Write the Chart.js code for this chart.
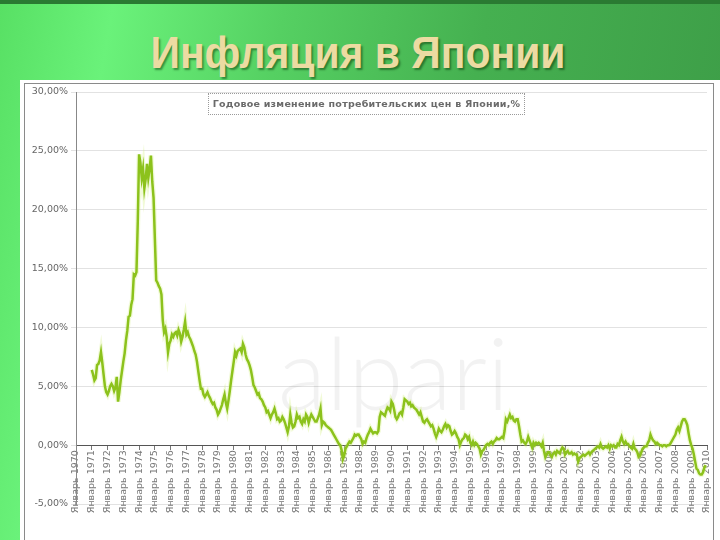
<!DOCTYPE html>
<html>
<head>
<meta charset="utf-8">
<script src="https://cdn.jsdelivr.net/npm/chart.js@4.4.1/dist/chart.umd.min.js"></script>
<style>
  html, body { margin: 0; padding: 0; }
  body {
    width: 720px; height: 540px; overflow: hidden; position: relative;
    background: linear-gradient(100deg, #58e064 0%, #6af27a 14%, #55d062 35%, #45b050 60%, #3c9a46 100%);
  }
  .topbar { position: absolute; left: 0; top: 0; width: 720px; height: 4px; background: #2a7a32; }
  h1 {
    position: absolute; left: 0; top: 28px; width: 716px; margin: 0;
    text-align: center; font: bold 44px "Liberation Sans", Arial, sans-serif;
    color: #ecdba2; text-shadow: 2px 2px 2px rgba(0, 40, 0, 0.45);
    transform: scaleX(0.93); transform-origin: 358px 0;
  }
  .panel { position: absolute; left: 20px; top: 80px; width: 700px; height: 460px; background: #fff; }
  .frame { position: absolute; left: 24px; top: 83px; width: 688px; height: 470px; border: 1px solid #8a8a8a; }
  canvas { position: absolute; left: 0; top: 0; }
  .legend {
    position: absolute; left: 208px; top: 93px; width: 317px; height: 22px;
    border: 1px dotted #9a9a9a; box-sizing: border-box;
    font: bold 9.5px "DejaVu Sans", sans-serif; color: #6a6a6a; letter-spacing: 0.25px;
    line-height: 20px; text-align: center; white-space: nowrap;
  }
</style>
</head>
<body>
<div class="topbar"></div>
<h1>Инфляция в Японии</h1>
<div class="panel"></div>
<div class="frame"></div>
<canvas id="chart" width="720" height="540"></canvas>
<div class="legend">Годовое изменение потребительских цен в Японии,%</div>
<script>
// годовое изменение ИПЦ, %, помесячно (янв..дек)
const y1971 = [6.4, 6.0, 5.5, 5.7, 6.8, 6.9, 7.2, 7.9, 7.0, 6.0, 5.0, 4.5];
const y1972 = [4.3, 4.6, 5.0, 5.2, 5.0, 4.6, 4.9, 5.8, 3.7, 4.5, 5.5, 6.3];
const y1973 = [7.1, 7.8, 8.9, 9.7, 10.9, 11.0, 11.9, 12.4, 14.5, 14.4, 14.7, 19.0];
const y1974 = [24.7, 24.0, 22.7, 23.5, 21.8, 22.6, 23.9, 22.7, 23.5, 24.6, 22.4, 21.0];
const y1975 = [17.5, 14.0, 13.8, 13.5, 13.3, 12.8, 10.6, 9.6, 9.9, 9.2, 7.9, 8.6];
const y1976 = [8.9, 9.4, 9.2, 9.5, 9.6, 9.3, 9.8, 9.5, 8.8, 9.2, 9.8, 10.5];
const y1977 = [9.4, 9.6, 9.2, 9.0, 8.7, 8.4, 8.0, 7.7, 7.1, 6.3, 5.5, 4.8];
const y1978 = [4.8, 4.3, 4.1, 4.3, 4.5, 4.2, 4.0, 3.7, 3.5, 3.6, 3.2, 3.0];
const y1979 = [2.6, 2.8, 3.1, 3.4, 3.9, 4.3, 3.6, 3.1, 3.8, 4.6, 5.5, 6.3];
const y1980 = [7.1, 7.9, 7.6, 8.0, 8.1, 8.2, 7.9, 8.6, 8.3, 7.7, 7.3, 7.1];
const y1981 = [6.8, 6.4, 5.8, 5.1, 4.9, 4.6, 4.3, 4.4, 4.0, 3.9, 3.7, 3.4];
const y1982 = [3.2, 2.8, 2.9, 2.6, 2.3, 2.6, 2.8, 3.1, 2.7, 2.2, 2.3, 2.0];
const y1983 = [2.1, 2.4, 2.2, 1.9, 1.5, 1.1, 1.6, 2.6, 1.9, 1.5, 1.6, 2.0];
const y1984 = [2.6, 2.3, 2.4, 2.0, 1.8, 2.2, 2.0, 2.6, 2.4, 1.9, 2.3, 2.6];
const y1985 = [2.4, 2.2, 2.0, 2.0, 2.3, 2.6, 3.1, 1.7, 2.0, 1.9, 1.7, 1.6];
const y1986 = [1.5, 1.4, 1.3, 1.1, 0.9, 0.7, 0.5, 0.3, 0.1, 0.0, -0.4, -1.2];
const y1987 = [-0.9, -0.3, -0.1, 0.1, 0.3, 0.2, 0.4, 0.6, 0.9, 0.8, 0.9, 0.9];
const y1988 = [0.7, 0.5, 0.1, 0.3, 0.2, 0.6, 0.9, 1.1, 1.4, 1.2, 1.0, 1.1];
const y1989 = [1.1, 1.0, 1.2, 2.4, 2.8, 2.7, 2.6, 2.5, 2.9, 3.2, 3.1, 2.9];
const y1990 = [3.7, 3.5, 3.0, 2.4, 2.2, 2.4, 2.7, 2.8, 2.6, 3.2, 3.9, 3.8];
const y1991 = [3.7, 3.5, 3.6, 3.3, 3.4, 3.2, 3.1, 3.0, 2.8, 2.6, 2.8, 2.4];
const y1992 = [2.0, 1.9, 2.1, 2.2, 2.0, 1.8, 1.6, 1.7, 1.4, 1.0, 0.7, 1.0];
const y1993 = [1.4, 1.2, 1.1, 1.3, 1.6, 1.8, 1.5, 1.7, 1.6, 1.2, 0.9, 1.0];
const y1994 = [1.2, 1.0, 0.7, 0.5, 0.0, 0.3, 0.5, 0.6, 0.9, 0.8, 0.5, 0.7];
const y1995 = [0.2, 0.0, 0.3, 0.0, 0.2, 0.1, -0.1, -0.3, -0.8, -0.5, -0.4, -0.2];
const y1996 = [0.0, 0.1, 0.0, 0.2, 0.3, 0.1, 0.3, 0.4, 0.6, 0.5, 0.5, 0.6];
const y1997 = [0.7, 0.6, 1.2, 2.2, 2.0, 2.3, 2.6, 2.3, 2.4, 2.1, 2.0, 2.2];
const y1998 = [2.2, 1.6, 0.9, 0.3, 0.4, 0.2, 0.1, 0.3, 0.7, 0.4, 0.1, -0.2];
const y1999 = [0.2, 0.0, 0.2, 0.1, 0.2, 0.1, -0.1, 0.2, -0.5, -1.0, -0.8, -0.6];
const y2000 = [-0.6, -0.9, -1.0, -0.7, -0.6, -0.8, -0.5, -0.6, -0.7, -0.4, -0.2, -0.3];
const y2001 = [-0.8, -0.6, -0.5, -0.7, -0.7, -0.6, -0.8, -0.7, -0.8, -0.8, -1.4, -1.1];
const y2002 = [-1.0, -0.9, -0.8, -0.9, -0.8, -0.7, -0.6, -0.8, -0.6, -0.5, -0.4, -0.3];
const y2003 = [-0.2, -0.1, -0.2, 0.1, -0.2, -0.3, -0.2, -0.1, -0.2, 0.0, -0.3, 0.0];
const y2004 = [-0.1, 0.0, -0.2, -0.2, 0.1, 0.0, 0.4, 0.7, 0.3, 0.1, 0.3, 0.1];
const y2005 = [0.1, -0.1, -0.2, -0.3, 0.1, -0.3, -0.4, -0.6, -1.0, -0.9, -0.6, -0.3];
const y2006 = [-0.2, -0.1, -0.1, 0.2, 0.4, 0.9, 0.6, 0.4, 0.3, 0.1, 0.2, 0.1];
const y2007 = [0.0, 0.0, -0.1, 0.0, 0.0, -0.1, 0.0, 0.0, 0.1, 0.3, 0.5, 0.7];
const y2008 = [0.9, 1.3, 1.5, 1.2, 1.6, 2.0, 2.2, 2.2, 2.0, 1.7, 1.0, 0.4];
const y2009 = [0.0, -0.3, -0.8, -1.4, -2.0, -2.1, -2.4, -2.5, -2.5, -2.3, -1.9, -1.7];

const firstYear = 1971;
const monthly = [].concat(
  y1971, y1972, y1973, y1974, y1975, y1976, y1977, y1978, y1979, y1980,
  y1981, y1982, y1983, y1984, y1985, y1986, y1987, y1988, y1989, y1990,
  y1991, y1992, y1993, y1994, y1995, y1996, y1997, y1998, y1999, y2000,
  y2001, y2002, y2003, y2004, y2005, y2006, y2007, y2008, y2009
);
const points = monthly.map((v, i) => ({ x: firstYear + i / 12, y: v }));

const yTicks = [30, 25, 20, 15, 10, 5, 0, -5];

// водяной знак на фоне графика
const watermark = {
  id: 'watermark',
  beforeDatasetsDraw(chart) {
    const { ctx, chartArea } = chart;
    ctx.save();
    ctx.font = '300 100px Lato, "DejaVu Sans", sans-serif';
    ctx.fillStyle = 'rgba(0,0,0,0.05)';
    ctx.textAlign = 'center';
    ctx.textBaseline = 'alphabetic';
    ctx.fillText('alpari', (chartArea.left + chartArea.right) / 2 + 2, 410);
    ctx.restore();
  }
};

const fmt = v => v.toFixed(2).replace('.', ',') + '%';

new Chart(document.getElementById('chart'), {
  type: 'line',
  data: {
    datasets: [{
      data: points,
      borderColor: '#8cc21c',
      borderWidth: 2.5,
      pointRadius: 0,
      tension: 0,
      fill: false
    }, {
      data: points,
      borderColor: 'rgba(215,240,140,0.35)',
      borderWidth: 5,
      pointRadius: 0,
      tension: 0,
      fill: false
    }]
  },
  plugins: [watermark],
  options: {
    responsive: false,
    animation: false,
    layout: { padding: { left: 24, top: 92, right: 13, bottom: 36 } },
    plugins: { legend: { display: false }, tooltip: { enabled: false }, title: { display: false } },
    scales: {
      x: {
        type: 'linear',
        min: 1970,
        max: 2010,
        position: { y: 0 },
        afterFit: s => { s.height = 0; },
        border: { color: '#555', width: 1 },
        grid: { drawOnChartArea: false, color: '#777', tickLength: 4 },
        ticks: {
          stepSize: 1,
          autoSkip: false,
          maxRotation: 90,
          minRotation: 90,
          padding: 1,
          color: '#777',
          font: { family: 'DejaVu Sans', size: 9.5 },
          callback: v => 'Январь ' + v
        }
      },
      y: {
        min: -5,
        max: 30,
        afterFit: s => { s.width = 52; },
        afterBuildTicks: s => { s.ticks = yTicks.map(v => ({ value: v })); },
        border: { color: '#888', width: 1 },
        grid: { color: '#e2e2e2', tickLength: 5 },
        ticks: {
          padding: 3,
          color: '#666',
          font: { family: 'DejaVu Sans', size: 9.5 },
          callback: v => fmt(v)
        }
      }
    }
  }
});
</script>
</body>
</html>
